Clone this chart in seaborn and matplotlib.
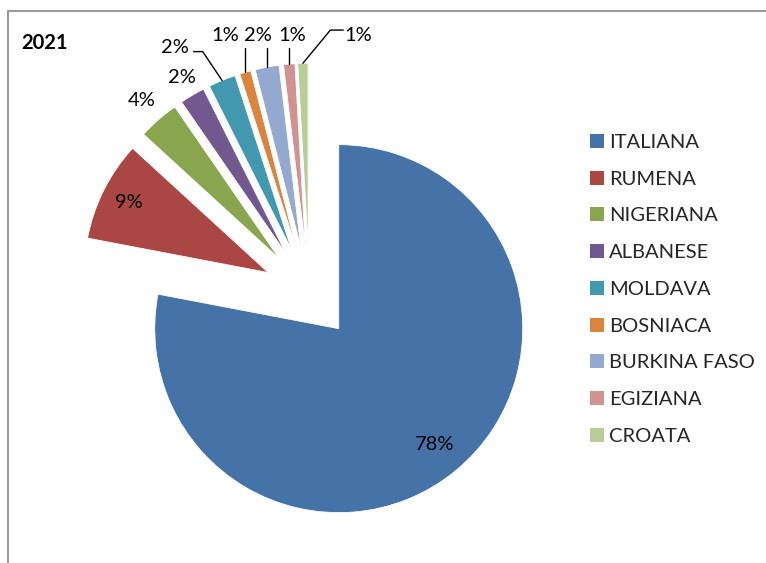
import numpy as np
import seaborn as sns
from matplotlib import pyplot as plt
from matplotlib.patches import Patch, Rectangle

# data (share of residents by citizenship, 2021)
categories = ['ITALIANA', 'RUMENA', 'NIGERIANA', 'ALBANESE', 'MOLDAVA',
              'BOSNIACA', 'BURKINA FASO', 'EGIZIANA', 'CROATA']
shares = [78.0, 8.8, 3.6, 2.2, 2.4, 1.0, 2.1, 1.0, 0.9]
year = '2021'

colors = ['#4572A7', '#AA4643', '#89A54E', '#71588F', '#4198AF',
          '#DB843D', '#93A9CF', '#D19392', '#B9CD96']

sns.set_theme(style='white')
plt.rcParams['font.family'] = ['Lato', 'DejaVu Sans']

W, H = 766, 563
fig = plt.figure(figsize=(W / 100, H / 100), dpi=100)
ax = fig.add_axes([0, 0, 1, 1])

wedges, _ = ax.pie(shares, colors=colors, startangle=90, counterclock=False,
                   explode=[0.25] * len(shares), radius=1.0,
                   wedgeprops=dict(edgecolor='white', linewidth=0.6))

# pie center sits at (309, 293) px, radius 184 px
cx, cy, rpx = 309.4, 293.2, 184.0
ax.set_xlim(-cx / rpx, (W - cx) / rpx)
ax.set_ylim(-(H - cy) / rpx, cy / rpx)
ax.set_aspect('auto')
ax.axis('off')

# label layout: ('in', dist) / ('out', dist) / ('vline', text xy) / ('elbow', text xy, side)
layout = [
    ('in', 0.82),
    ('in', 0.85),
    ('out', 1.14),
    ('out', 1.11),
    ('elbow', (-0.73, 1.333), 'right'),
    ('vline', (-0.459, 1.403)),
    ('vline', (-0.279, 1.403)),
    ('vline', (-0.095, 1.403)),
    ('elbow', (0.264, 1.403), 'left'),
]

total = sum(shares)
fs = 14.5
for w, v, lay in zip(wedges, shares, layout):
    txt = f'{round(v / total * 100)}%'
    mid = np.deg2rad((w.theta1 + w.theta2) / 2)
    ex, ey = w.center
    if lay[0] in ('in', 'out'):
        d = lay[1]
        ax.text(ex + d * np.cos(mid), ey + d * np.sin(mid), txt,
                ha='center', va='center', fontsize=fs, color='black')
        continue
    # point on the outer arc of the slice
    px, py = ex + w.r * np.cos(mid), ey + w.r * np.sin(mid)
    tx, ty = lay[1]
    ax.text(tx, ty, txt, ha='center', va='center', fontsize=fs, color='black')
    if lay[0] == 'vline':
        ax.plot([px, px], [ty - 0.07, py], color='black', lw=1.0)
    else:
        half = 0.1
        if lay[2] == 'right':
            sx = tx + half
            ax.plot([sx, sx + 0.05, px], [ty - 0.02, ty - 0.02, py], color='black', lw=1.0)
        else:
            sx = tx - half + 0.02
            ax.plot([sx, sx - 0.07, px], [ty + 0.027, ty + 0.027, py], color='black', lw=1.0)

handles = [Patch(facecolor=c, edgecolor='none') for c in colors]
fig.legend(handles, categories, loc='upper left',
           bbox_to_anchor=(590 / W, 1 - 134 / H), frameon=False,
           borderaxespad=0, borderpad=0, fontsize=fs,
           handlelength=0.68, handleheight=0.68, handletextpad=0.25,
           labelspacing=0.98)

fig.text(21 / W, 1 - 43 / H, year, fontsize=14.5, fontweight='bold',
         ha='left', va='center', color='black')

# chart area border (runs off the right and bottom edges)
fig.patches.append(Rectangle((7.5 / W, -0.05), 1.1, 1.05 - 10.5 / H,
                             transform=fig.transFigure, fill=False,
                             edgecolor='#9a9a9a', linewidth=1.5))

plt.savefig('out.png', dpi=100)
